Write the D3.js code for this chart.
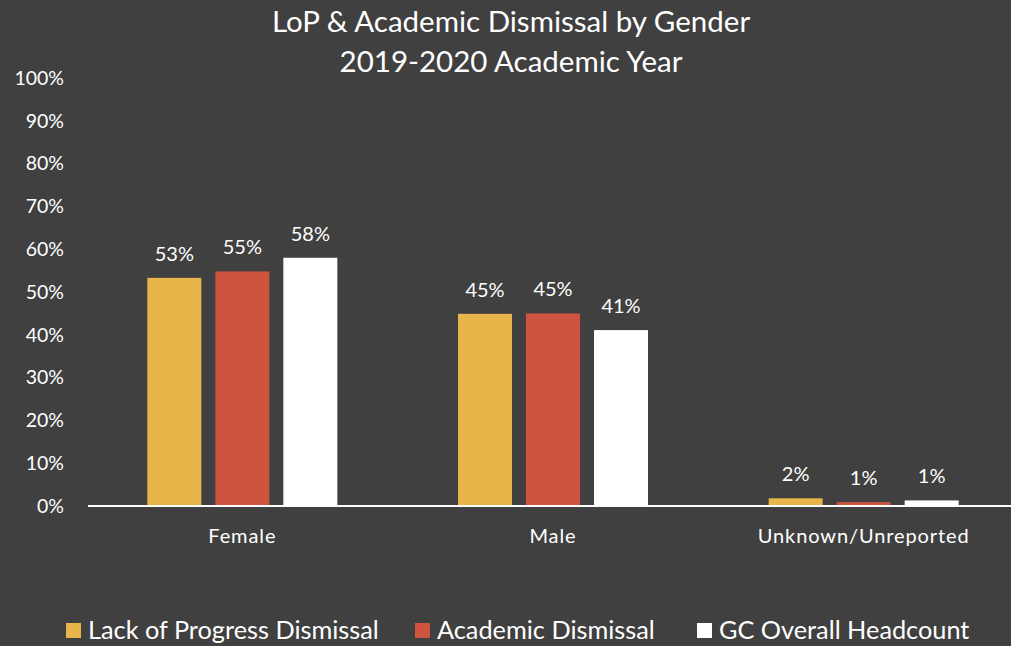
<!DOCTYPE html>
<html><head><meta charset="utf-8">
<script src="https://cdn.jsdelivr.net/npm/d3@7"></script>
<style>html,body{margin:0;padding:0;background:#404040;}svg{display:block;}</style>
</head><body>
<svg id="chart" width="1011" height="646"></svg>
<script>
const categories = ["Female", "Male", "Unknown/Unreported"];
const seriesNames = ["Lack of Progress Dismissal", "Academic Dismissal", "GC Overall Headcount"];
const lopValues = [53.3, 44.9, 1.8];
const adValues = [54.8, 45.0, 0.9];
const gcValues = [58.0, 41.1, 1.3];
const yTicks = [0, 10, 20, 30, 40, 50, 60, 70, 80, 90, 100];
const titleLines = ["LoP & Academic Dismissal by Gender", "2019-2020 Academic Year"];
const colors = ["#E8B54B", "#CF543F", "#FFFFFF"];

const seriesValues = [lopValues, adValues, gcValues];
const font = "Lato, 'Open Sans', sans-serif";
const svg = d3.select("#chart");
svg.append("rect").attr("width", 1011).attr("height", 646).attr("fill", "#404040");

const y = d3.scaleLinear().domain([0, 100]).range([506, 78]);
const x0 = d3.scaleBand().domain(categories).range([87, 1019]).paddingInner(0).paddingOuter(0);
const groupW = 190;
const x1 = d3.scaleBand().domain(seriesNames).range([0, groupW]).paddingInner(14 / 68).paddingOuter(0);

// title
svg.append("g").selectAll("text").data(titleLines).join("text")
  .attr("x", 511).attr("y", (d, i) => 32 + i * 40)
  .attr("text-anchor", "middle").attr("fill", "#fff")
  .attr("font-family", font).attr("font-size", 29.5).text(d => d);

// y axis labels
const yAxis = d3.axisLeft(y).tickValues(yTicks).tickFormat(d => d + "%").tickSize(0).tickPadding(0);
const ya = svg.append("g").attr("transform", "translate(64,0)").call(yAxis);
ya.select(".domain").remove();
ya.selectAll("text").attr("fill", "#fff").attr("font-family", font).attr("font-size", 19.5);

// bars
const groups = svg.append("g").selectAll("g").data(categories).join("g")
  .attr("transform", c => `translate(${x0(c) + (x0.bandwidth() - groupW) / 2},0)`);
groups.each(function (c, ci) {
  const g = d3.select(this);
  const data = seriesNames.map((s, si) => ({ s, si, v: seriesValues[si][ci] }));
  g.selectAll("rect").data(data).join("rect")
    .attr("x", d => x1(d.s)).attr("width", x1.bandwidth())
    .attr("y", d => y(d.v)).attr("height", d => y(0) - y(d.v))
    .attr("fill", d => colors[d.si]);
  g.selectAll("text").data(data).join("text")
    .attr("x", d => x1(d.s) + x1.bandwidth() / 2).attr("y", d => y(d.v) - 17)
    .attr("text-anchor", "middle").attr("fill", "#fff")
    .attr("font-family", font).attr("font-size", 20)
    .text(d => Math.round(d.v) + "%");
});

// baseline
svg.append("line").attr("x1", 88).attr("x2", 1011).attr("y1", y(0)).attr("y2", y(0))
  .attr("stroke", "#fff").attr("stroke-width", 2);

// x axis labels
const xAxis = d3.axisBottom(x0).tickSize(0).tickPadding(0);
const xa = svg.append("g").attr("transform", `translate(0,${y(0) + 23})`).call(xAxis);
xa.select(".domain").remove();
xa.selectAll("text").attr("fill", "#fff").attr("font-family", font).attr("font-size", 20).attr("letter-spacing", 0.9);

// legend
const legendX = [66, 415, 697];
const lg = svg.append("g").selectAll("g").data(seriesNames).join("g")
  .attr("transform", (d, i) => `translate(${legendX[i]},623)`);
lg.append("rect").attr("width", 15).attr("height", 15).attr("fill", (d, i) => colors[i]);
lg.append("text").attr("x", 22).attr("y", 16).attr("fill", "#fff")
  .attr("font-family", font).attr("font-size", 25.3).text(d => d);
</script>
</body></html>
